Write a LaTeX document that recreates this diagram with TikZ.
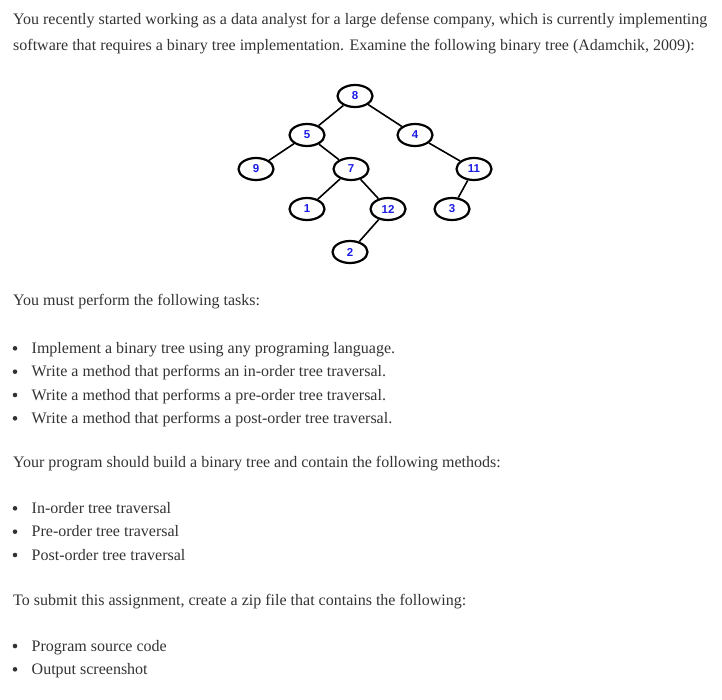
\documentclass[tikz,border=0pt]{standalone}
\usepackage{fontspec}
\setmainfont{Liberation Serif}
\newfontfamily\numfont{Liberation Sans}
\usetikzlibrary{trees,shapes.geometric}
\definecolor{textgray}{HTML}{333333}
\definecolor{numblue}{HTML}{1A1AE6}

\begin{document}
\begin{tikzpicture}[x=1pt, y=-1pt,
    txt/.style={anchor=base west, inner sep=0pt, text=textgray,
      font=\fontsize{16}{19}\selectfont},
    num/.style={ellipse, draw, line width=2.2pt, minimum width=35pt,
      minimum height=22pt, inner sep=0pt, text=numblue,
      font=\numfont\bfseries\fontsize{11.5}{11.5}\selectfont},
    edge from parent/.style={draw, line width=1.6pt},
    level 1/.style={level distance=39pt, sibling distance=108pt}, % 8 to 5 and 4
    level 2/.style={level distance=34pt, sibling distance=95pt},
    level 3/.style={level distance=40pt, sibling distance=81pt},
    level 4/.style={level distance=43pt, sibling distance=76pt}
   ]
    \useasboundingbox (0,0) rectangle (722,699);

    % opening paragraph
    \node[txt] (intro1) at (13,24) {You recently started working as a data analyst for a large defense company, which is currently implementing};
    \node[txt] (intro2) at (13,50.5) {software that requires a binary tree implementation. Examine the following binary tree (Adamchik, 2009):};

    % the tree
    \node[num] (n8) at (355,96) {8}
        child[xshift=6pt] {node[num] (n5) {5}
           child[xshift=-3.5pt] {node[num] (n9) {9}}
           child[xshift=-3.5pt] {node[num] (n7) {7}
             child[xshift=-3.5pt] {node[num] (n1) {1}}
             child[xshift=-3.5pt] {node[num] (n12) {12}
               child {node[num] (n2) {2}}
               child[missing]
             }
           }
        }
        child[xshift=6pt] {node[num] (n4) {4}
           child[missing]
           child[xshift=11.5pt] {node[num] (n11) {11}
             child[xshift=18.5pt] {node[num] (n3) {3}}
             child[missing]
           }
        }
    ;

    % tasks
    \node[txt] (tasks) at (13,305) {You must perform the following tasks:};
    \foreach \y/\t [count=\i] in {353.3/Implement a binary tree using any programing language.,
        376.7/Write a method that performs an in-order tree traversal.,
        400/Write a method that performs a pre-order tree traversal.,
        423.3/Write a method that performs a post-order tree traversal.}{
      \fill[textgray] (15,\y-5) circle (2.3pt);
      \node[txt] (task\i) at (31.5,\y) {\t};
    }

    % methods
    \node[txt] (methods) at (13,467.3) {Your program should build a binary tree and contain the following methods:};
    \foreach \y/\t [count=\i] in {513.3/In-order tree traversal,
        536.7/Pre-order tree traversal,
        560/Post-order tree traversal}{
      \fill[textgray] (15,\y-5) circle (2.3pt);
      \node[txt] (method\i) at (31.5,\y) {\t};
    }

    % submission
    \node[txt] (submit) at (13,605) {To submit this assignment, create a zip file that contains the following:};
    \foreach \y/\t [count=\i] in {651/Program source code,
        674.3/Output screenshot}{
      \fill[textgray] (15,\y-5) circle (2.3pt);
      \node[txt] (item\i) at (31.5,\y) {\t};
    }
\end{tikzpicture}
\end{document}
